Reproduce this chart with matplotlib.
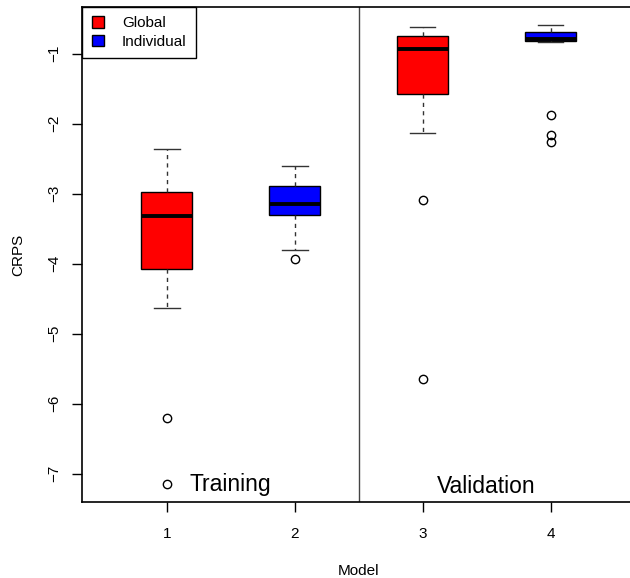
import matplotlib.pyplot as plt
from matplotlib.patches import Patch

plt.rcParams['font.family'] = ['Liberation Sans', 'DejaVu Sans']

# CRPS summaries per model: 1-2 training, 3-4 validation
positions = [1, 2, 3, 4]
labels = ['1', '2', '3', '4']
colors = ['red', 'blue', 'red', 'blue']
whislo = [-4.63, -3.80, -2.13, -0.84]
q1 = [-4.07, -3.30, -1.58, -0.82]
med = [-3.32, -3.15, -0.93, -0.79]
q3 = [-2.97, -2.89, -0.75, -0.69]
whishi = [-2.36, -2.60, -0.62, -0.59]
fliers = [[-6.20, -7.15], [-3.93], [-3.09, -5.65], [-1.87, -2.16, -2.26]]

stats = []
for i in range(len(positions)):
    stats.append(dict(whislo=whislo[i], q1=q1[i], med=med[i], q3=q3[i],
                      whishi=whishi[i], fliers=fliers[i], label=labels[i]))

fig = plt.figure(figsize=(6.3, 5.78), dpi=100)
# right edge of the plot box sits just past the figure edge
ax = fig.add_axes([82.4 / 630, 1 - 502.3 / 578, (635 - 82.4) / 630, (502.3 - 6.7) / 578])

bp = ax.bxp(stats, positions=positions, widths=0.4, patch_artist=True,
            showfliers=True, manage_ticks=False,
            boxprops=dict(edgecolor='black', linewidth=1.0),
            medianprops=dict(color='black', linewidth=2.8),
            whiskerprops=dict(color='#333333', linewidth=1.0, linestyle=(0, (3, 3))),
            capprops=dict(color='#333333', linewidth=1.0),
            flierprops=dict(marker='o', markerfacecolor='none', markeredgecolor='black',
                            markersize=6.0, markeredgewidth=1.0))
for patch, c in zip(bp['boxes'], colors):
    patch.set_facecolor(c)
for cap in bp['caps']:
    x0, x1 = cap.get_xdata()
    mid = (x0 + x1) / 2
    cap.set_xdata([mid - 0.1, mid + 0.1])

ax.axvline(2.5, color='#444444', linewidth=1.0)

ax.set_xlim(0.341, 4.659)
ax.set_ylim(-7.41, -0.33)
ax.set_xticks(positions)
ax.set_xticklabels(labels)
ax.set_yticks([-7, -6, -5, -4, -3, -2, -1])
ax.set_yticklabels(['\u22127', '\u22126', '\u22125', '\u22124', '\u22123', '\u22122', '\u22121'],
                   rotation=90, va='center')
ax.tick_params(axis='both', direction='out', length=7, width=1.0, labelsize=11)
ax.tick_params(axis='y', pad=8)
ax.tick_params(axis='x', pad=11)
for s in ax.spines.values():
    s.set_linewidth(1.2)

ax.text(1.5, -7.16, 'Training', fontsize=16.5, ha='center', va='center')
ax.text(3.5, -7.18, 'Validation', fontsize=16.5, ha='center', va='center')

ax.set_xlabel('Model', fontsize=11)
ax.set_ylabel('CRPS', fontsize=11)
ax.xaxis.set_label_coords((2.5 - 0.341) / (4.659 - 0.341), -0.124)
ax.yaxis.set_label_coords(-0.104, 0.5)

handles = [Patch(facecolor='red', edgecolor='black', label='Global'),
           Patch(facecolor='blue', edgecolor='black', label='Individual')]
leg = ax.legend(handles=handles, loc='upper left', fontsize=11, fancybox=False,
                edgecolor='black', framealpha=1, borderaxespad=0,
                handlelength=0.8, handleheight=0.8, handletextpad=1.2,
                borderpad=0.6, labelspacing=0.3)
leg.get_frame().set_linewidth(1.0)

fig.savefig('out.png', dpi=100)
